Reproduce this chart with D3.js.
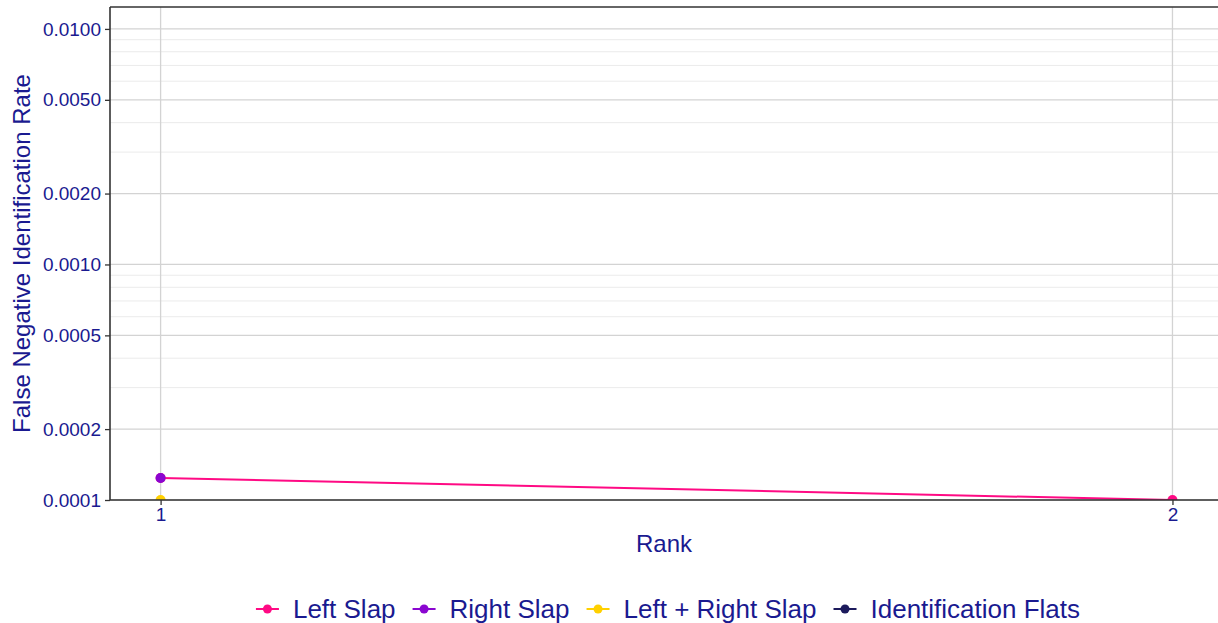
<!DOCTYPE html>
<html>
<head>
<meta charset="utf-8">
<script src="https://cdn.jsdelivr.net/npm/d3@7"></script>
<style>
  body { margin: 0; background: #fff; }
  svg text { font-family: "Liberation Sans", Arial, sans-serif; fill: #1a1a90; }
</style>
</head>
<body>
<div id="chart"></div>
<script>
const ranks = [1, 2];
const seriesNames = ["Left Slap", "Right Slap", "Left + Right Slap", "Identification Flats"];
const seriesColors = ["#ff0a84", "#8a06d0", "#ffd000", "#1c1a5c"];
// 0 = nothing to plot on a log axis (dropped, as in the original)
const leftSlap = [0.000124, 0.0001];
const rightSlap = [0.000124, 0];
const leftRightSlap = [0.0001, 0];
const identFlats = [0, 0];
const yMajor = [0.0001, 0.0002, 0.0005, 0.001, 0.002, 0.005, 0.01];
const yMinor = [0.0003, 0.0004, 0.0006, 0.0007, 0.0008, 0.0009, 0.003, 0.004, 0.006, 0.007, 0.008, 0.009];
const yTickLabels = ["0.0001", "0.0002", "0.0005", "0.0010", "0.0020", "0.0050", "0.0100"];

const W = 1218, H = 623;
const margin = { top: 7, right: 0, bottom: 123, left: 110 };
const width = W - margin.left - margin.right;
const height = H - margin.top - margin.bottom;

const svg = d3.select("#chart").append("svg")
  .attr("width", W).attr("height", H);

const g = svg.append("g").attr("transform", `translate(${margin.left},${margin.top})`);

const x = d3.scaleLinear().domain([0.95, 2.045]).range([0, width]);
const y = d3.scaleLog().domain([0.0001, 0.01239]).range([height, 0]);

// grid
g.append("g").selectAll("line").data(yMinor).join("line")
  .attr("x1", 0).attr("x2", width)
  .attr("y1", d => y(d)).attr("y2", d => y(d))
  .attr("stroke", "#ebebeb").attr("stroke-width", 1);
g.append("g").selectAll("line").data(yMajor).join("line")
  .attr("x1", 0).attr("x2", width)
  .attr("y1", d => y(d)).attr("y2", d => y(d))
  .attr("stroke", "#d3d3d3").attr("stroke-width", 1.3);
g.append("g").selectAll("line").data(ranks).join("line")
  .attr("x1", d => x(d)).attr("x2", d => x(d))
  .attr("y1", 0).attr("y2", height)
  .attr("stroke", "#d3d3d3").attr("stroke-width", 1.3);

// clip for data
svg.append("clipPath").attr("id", "panel").append("rect")
  .attr("width", width).attr("height", height);

const allSeries = [leftSlap, rightSlap, leftRightSlap, identFlats].map((vals, i) => ({
  name: seriesNames[i],
  color: seriesColors[i],
  pts: vals.map((v, j) => ({ rank: ranks[j], v })).filter(p => p.v > 0)
}));

const plot = g.append("g").attr("clip-path", "url(#panel)");
const line = d3.line().x(d => x(d.rank)).y(d => y(d.v));
plot.selectAll("path").data(allSeries.filter(s => s.pts.length > 1)).join("path")
  .attr("d", s => line(s.pts))
  .attr("fill", "none").attr("stroke", s => s.color).attr("stroke-width", 2);
allSeries.forEach(s => {
  plot.append("g").selectAll("circle").data(s.pts).join("circle")
    .attr("cx", d => x(d.rank)).attr("cy", d => y(d.v)).attr("r", 5)
    .attr("fill", s.color);
});

// axes
const yAxis = g.append("g")
  .call(d3.axisLeft(y).tickValues(yMajor).tickFormat((d, i) => yTickLabels[i]).tickSize(5).tickPadding(4));
yAxis.select(".domain").remove();
yAxis.selectAll("line").attr("stroke", "#333").attr("stroke-width", 1.3);
yAxis.selectAll("text").attr("font-size", "19px").attr("fill", "#1a1a90");

const xAxis = g.append("g").attr("transform", `translate(0,${height})`)
  .call(d3.axisBottom(x).tickValues(ranks).tickFormat(d3.format("d")).tickSize(5).tickPadding(3));
xAxis.select(".domain").remove();
xAxis.selectAll("line").attr("stroke", "#333").attr("stroke-width", 1.3);
xAxis.selectAll("text").attr("font-size", "19px").attr("fill", "#1a1a90");

// panel edges: top, left, bottom
g.append("line").attr("x1", 0).attr("x2", width).attr("y1", 0).attr("y2", 0)
  .attr("stroke", "#333").attr("stroke-width", 1.6);
g.append("line").attr("x1", 0).attr("x2", 0).attr("y1", 0).attr("y2", height)
  .attr("stroke", "#333").attr("stroke-width", 1.6);
g.append("line").attr("x1", 0).attr("x2", width).attr("y1", height).attr("y2", height)
  .attr("stroke", "#333").attr("stroke-width", 1.3);

// titles
svg.append("text").attr("x", margin.left + width / 2).attr("y", 552)
  .attr("text-anchor", "middle").attr("font-size", "24px").text("Rank");
svg.append("text")
  .attr("transform", `translate(30,${margin.top + height / 2}) rotate(-90)`)
  .attr("text-anchor", "middle").attr("font-size", "24px")
  .text("False Negative Identification Rate");

// legend
const legend = svg.append("g");
let cx = 0;
seriesNames.forEach((name, i) => {
  const item = legend.append("g").attr("transform", `translate(${cx},0)`);
  item.append("line").attr("x1", 0).attr("x2", 23).attr("y1", 0).attr("y2", 0)
    .attr("stroke", seriesColors[i]).attr("stroke-width", 2);
  item.append("circle").attr("cx", 11.5).attr("cy", 0).attr("r", 4.5).attr("fill", seriesColors[i]);
  const t = item.append("text").attr("x", 37).attr("y", 9).attr("font-size", "26px").text(name);
  cx += 37 + t.node().getComputedTextLength() + 17;
});
const legW = cx - 17;
legend.attr("transform", `translate(${668 - legW / 2},609)`);
</script>
</body>
</html>
